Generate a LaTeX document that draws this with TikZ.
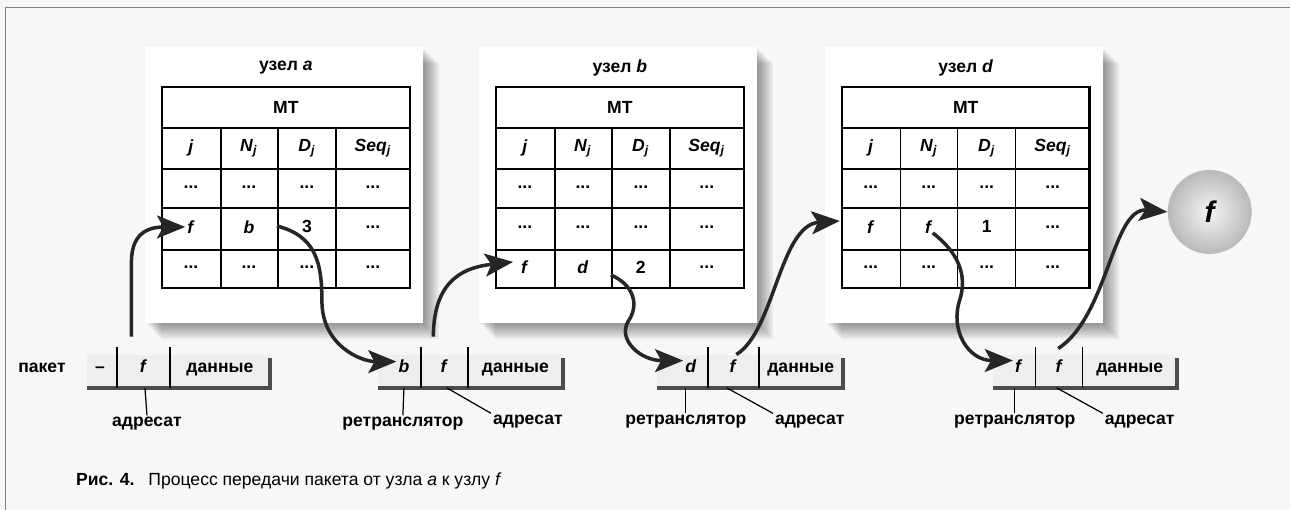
\documentclass[tikz,border=0pt]{standalone}
\usepackage{fontspec}
\setmainfont{Liberation Sans}
\usetikzlibrary{arrows.meta,calc}

\tikzset{
  lbl/.style={font=\bfseries\fontsize{10}{12}\selectfont, inner sep=1pt},
  txt/.style={font=\fontsize{10}{12}\selectfont, inner sep=1pt},
  flow/.style={line width=2pt, black!85, -{Stealth[length=16pt,width=13pt,inset=3.5pt]}},
  tick/.style={line width=0.7pt},
}

% table of one node: name, left x, node letter, row of f, N value, D value
\newcommand{\mttable}[6]{%
  \foreach \s in {2,4,...,16}
    \fill[black,opacity=0.055] (#2-17+\s,47+\s) rectangle (#2+261+\s,323+\s);
  \fill[white] (#2-17,47) rectangle (#2+261,323);
  \node[lbl] (#1title) at (#2+124,68) {узел \textit{#3}};
  \draw[line width=1.4pt] (#2,87) rectangle (#2+248,288);
  \foreach \y in {128,169,208,250}
    \draw[line width=1.1pt] (#2,\y) -- (#2+248,\y);
  \foreach \x in {59,116,174}
    \draw[line width=0.8pt] (#2+\x,128) -- (#2+\x,288);
  \node[lbl] (#1mt) at (#2+124,107) {MT};
  \node[lbl] (#1hj) at (#2+29,148) {\textit{j}};
  \node[lbl] (#1hn) at (#2+87,148) {\textit{N}\textsubscript{\textit{j}}};
  \node[lbl] (#1hd) at (#2+145,148) {\textit{D}\textsubscript{\textit{j}}};
  \node[lbl] (#1hs) at (#2+211,148) {\textit{Seq}\textsubscript{\textit{j}}};
  \foreach \r/\yy in {1/187,2/227,3/267}{
    \ifnum\r=#4
      \node[lbl] (#1J) at (#2+29,\yy) {\textit{f}};
      \node[lbl] (#1N) at (#2+87,\yy) {\textit{#5}};
      \node[lbl] (#1D) at (#2+145,\yy) {#6};
      \node[lbl] (#1S) at (#2+211,\yy) {...};
    \else
      \foreach \cx/\cn in {29/j,87/n,145/d,211/s}
        \node[lbl] (#1\r\cn) at (#2+\cx,\yy) {...};
    \fi
  }
}

% packet: name, left x, divider 1, divider 2, right x, field 1, field 2
\newcommand{\packet}[7]{%
  \fill[gray!13] (#2,355) rectangle (#5,388);
  \draw[gray!60!black, line width=2.5pt] (#2,388) -- (#5,388) -- (#5,358);
  \draw[line width=0.8pt] (#3,347) -- (#3,388);
  \draw[line width=0.8pt] (#4,347) -- (#4,388);
  \node[lbl, anchor=base] (#1r) at (#3-17,373) {#6};
  \node[lbl, anchor=base] (#1d) at ({(#3+#4)/2},373) {#7};
  \node[lbl, anchor=base] (#1data) at ({(#4+#5)/2},373) {данные};
}

\begin{document}
\begin{tikzpicture}[x=0.02cm,y=-0.02cm]
\fill[gray!6] (0,0) rectangle (1290,510);
\draw[gray] (5,510) -- (5,7) -- (1290,7);

\mttable{a}{162}{a}{2}{b}{3}
\mttable{b}{496}{b}{3}{d}{2}
\mttable{d}{842}{d}{2}{f}{1}

\node[circle, minimum size=1.68cm, inner color=gray!8, outer color=gray!55,
  font=\bfseries\itshape\fontsize{17}{20}\selectfont] (f) at (1210,212) {f};

\node[lbl, anchor=base] (pkt) at (42,373) {пакет};
\packet{p1}{87}{117}{170}{270}{\textendash}{\textit{f}}
\packet{p2}{378}{421}{468}{563}{\textit{b}}{\textit{f}}
\packet{p3}{657}{708}{759}{843}{\textit{d}}{\textit{f}}
\packet{p4}{993}{1036}{1083}{1177}{\textit{f}}{\textit{f}}

% field labels
\node[lbl, anchor=base] (p1dl) at (147,427) {адресат};
\draw[tick] (145,388) -- (p1dl.north);
\node[lbl, anchor=base] (p2rl) at (403,427) {ретранслятор};
\node[lbl, anchor=base] (p2dl) at (528,425) {адресат};
\draw[tick] (404,388) -- (p2rl.north);
\draw[tick] (447,388) -- (p2dl.north west);
\node[lbl, anchor=base] (p3rl) at (686,425) {ретранслятор};
\node[lbl, anchor=base] (p3dl) at (810,425) {адресат};
\draw[tick] (686,388) -- (p3rl.north);
\draw[tick] (727,388) -- (p3dl.north west);
\node[lbl, anchor=base] (p4rl) at (1015,425) {ретранслятор};
\node[lbl, anchor=base] (p4dl) at (1140,425) {адресат};
\draw[tick] (1015,388) -- (p4rl.north);
\draw[tick] (1057,388) -- (p4dl.north west);

% route of the packet
\draw[flow] ($(p1d)+(-12,-30)$) -- ++(0,-75) .. controls +(0,-32) and +(-32,0) .. (aJ.west);
\draw[flow] ($(aN)+(28,-1)$) .. controls +(38,10) and +(0,-40) .. ++(45,75)
  .. controls +(0,45) and +(-35,0) .. ($(p2r.west)+(0,-5)$);
\draw[flow] ($(p2d)+(-11,-30)$) .. controls +(0,-60) and +(-45,5) .. ($(bJ.west)+(-6,-5)$);
\draw[flow] ($(bN)+(28,8)$) .. controls +(23,10) and +(12,-17) .. ++(17,47)
  .. controls +(-10,18) and +(-43,0) .. ($(p3r.west)+(0,-6)$);
\draw[flow] ($(p3d)+(3,-12)$) .. controls +(38,-23) and +(-60,4) .. ($(dJ)+(-31,-6)$);
\draw[flow] ($(dN)+(4,6)$) .. controls +(25,19) and +(8,-25) .. ++(27,67)
  .. controls +(-10,30) and +(-45,0) .. ($(p4r.west)+(0,-6)$);
\draw[flow] ($(p4d)+(-1,-18)$) .. controls +(50,-33) and +(-55,-5) .. (f.west);

\node[txt, anchor=base west] (cap) at (74,486)
  {\textbf{Рис. 4.}\hspace{0.8em}Процесс передачи пакета от узла \textit{a} к узлу \textit{f}};
\end{tikzpicture}
\end{document}
